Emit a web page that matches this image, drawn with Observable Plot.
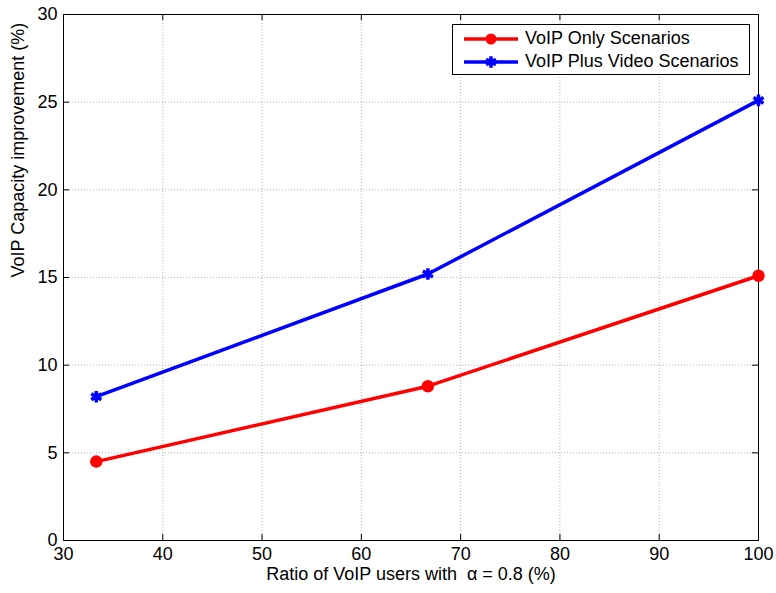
<!DOCTYPE html>
<html><head><meta charset="utf-8">
<script src="https://cdn.jsdelivr.net/npm/d3@7"></script>
<script src="https://cdn.jsdelivr.net/npm/@observablehq/plot@0.6"></script>
<style>
body{margin:0;background:#fff;font-family:"Liberation Sans",Arial,sans-serif;}
#wrap{position:relative;width:776px;height:593px;}
#legend{position:absolute;left:452px;top:24px;width:296px;height:49px;border:1px solid #000;background:#fff;font-size:18px;color:#000;}
.row{position:absolute;left:10px;height:23px;display:flex;align-items:center;white-space:nowrap;}
.row svg{margin-right:6px;}
</style></head><body><div id="wrap"></div>
<script>
const ratios = [33.3, 66.7, 100];
const voipOnly = [4.5, 8.8, 15.1];
const voipVideo = [8.2, 15.2, 25.1];
const xTicks = [30, 40, 50, 60, 70, 80, 90, 100];
const yTicks = [0, 5, 10, 15, 20, 25, 30];
const seriesNames = ["VoIP Only Scenarios", "VoIP Plus Video Scenarios"];
const seriesColors = ["#ff0000", "#0000ff"];
const seriesSymbols = ["circle", "asterisk"];
const xLabel = "Ratio of VoIP users with  \u03b1 = 0.8 (%)";
const yLabel = "VoIP Capacity improvement (%)";

const data = [];
[voipOnly, voipVideo].forEach((vals, s) => {
  vals.forEach((v, i) => data.push({series: seriesNames[s], x: ratios[i], y: v}));
});

const W = 776, H = 593, mL = 63, mR = 18, mT = 14, mB = 53;
const PW = W - mL - mR, PH = H - mT - mB, TL = 6;

const font = "'Liberation Sans', Arial, sans-serif";
const FS = 18;
const chart = Plot.plot({
  width: W, height: H,
  marginLeft: mL, marginRight: mR, marginTop: mT, marginBottom: mB,
  style: {fontFamily: font, fontSize: FS + "px", background: "#fff", color: "#000"},
  x: {domain: [30, 100]},
  y: {domain: [0, 30]},
  marks: [
    Plot.gridX(xTicks, {stroke: "#b0b0b0", strokeOpacity: 1, strokeDasharray: "1,2"}),
    Plot.gridY(yTicks, {stroke: "#b0b0b0", strokeOpacity: 1, strokeDasharray: "1,2"}),
    Plot.axisX(xTicks, {anchor: "bottom", tickSize: 0, tickPadding: 7, label: null, fontSize: FS}),
    Plot.axisY(yTicks, {anchor: "left", tickSize: 0, tickPadding: 6, label: null, fontSize: FS}),
    Plot.tickX(xTicks, {x: d => d, insetTop: PH - TL, stroke: "#000"}),
    Plot.tickX(xTicks, {x: d => d, insetBottom: PH - TL, stroke: "#000"}),
    Plot.tickY(yTicks, {y: d => d, insetRight: PW - TL, stroke: "#000"}),
    Plot.tickY(yTicks, {y: d => d, insetLeft: PW - TL, stroke: "#000"}),
    Plot.frame({stroke: "#000", strokeWidth: 1}),
    Plot.line(data, {x: "x", y: "y", z: "series", stroke: d => seriesColors[seriesNames.indexOf(d.series)], strokeWidth: 3.5}),
    Plot.dot(data.filter(d => d.series === seriesNames[0]), {x: "x", y: "y", r: 5.5, fill: seriesColors[0], stroke: seriesColors[0], symbol: "circle"}),
    Plot.dot(data.filter(d => d.series === seriesNames[1]), {x: "x", y: "y", r: 5.5, stroke: seriesColors[1], strokeWidth: 3.5, fill: seriesColors[1], symbol: "asterisk"}),
    Plot.text([xLabel], {frameAnchor: "bottom", dy: 39, text: d => d, fontSize: FS}),
    Plot.text([yLabel], {frameAnchor: "left", dx: -45, rotate: -90, text: d => d, fontSize: FS})
  ]
});
const wrap = document.getElementById("wrap");
wrap.appendChild(chart);

const legend = document.createElement("div");
legend.id = "legend";
seriesNames.forEach((name, i) => {
  const row = document.createElement("div");
  row.className = "row";
  row.style.top = (2 + i * 23) + "px";
  const sym = seriesSymbols[i] === "circle"
    ? `<circle cx="28" cy="11" r="5.5" fill="${seriesColors[i]}"/>`
    : `<path d="${d3.symbol(d3.symbolAsterisk, 90)()}" transform="translate(28,11)" stroke="${seriesColors[i]}" stroke-width="3.5" fill="none"/>`;
  row.innerHTML = `<svg width="56" height="22"><line x1="1" y1="11" x2="55" y2="11" stroke="${seriesColors[i]}" stroke-width="3.5"/>${sym}</svg><span>${name}</span>`;
  legend.appendChild(row);
});
wrap.appendChild(legend);
</script>
</body></html>
